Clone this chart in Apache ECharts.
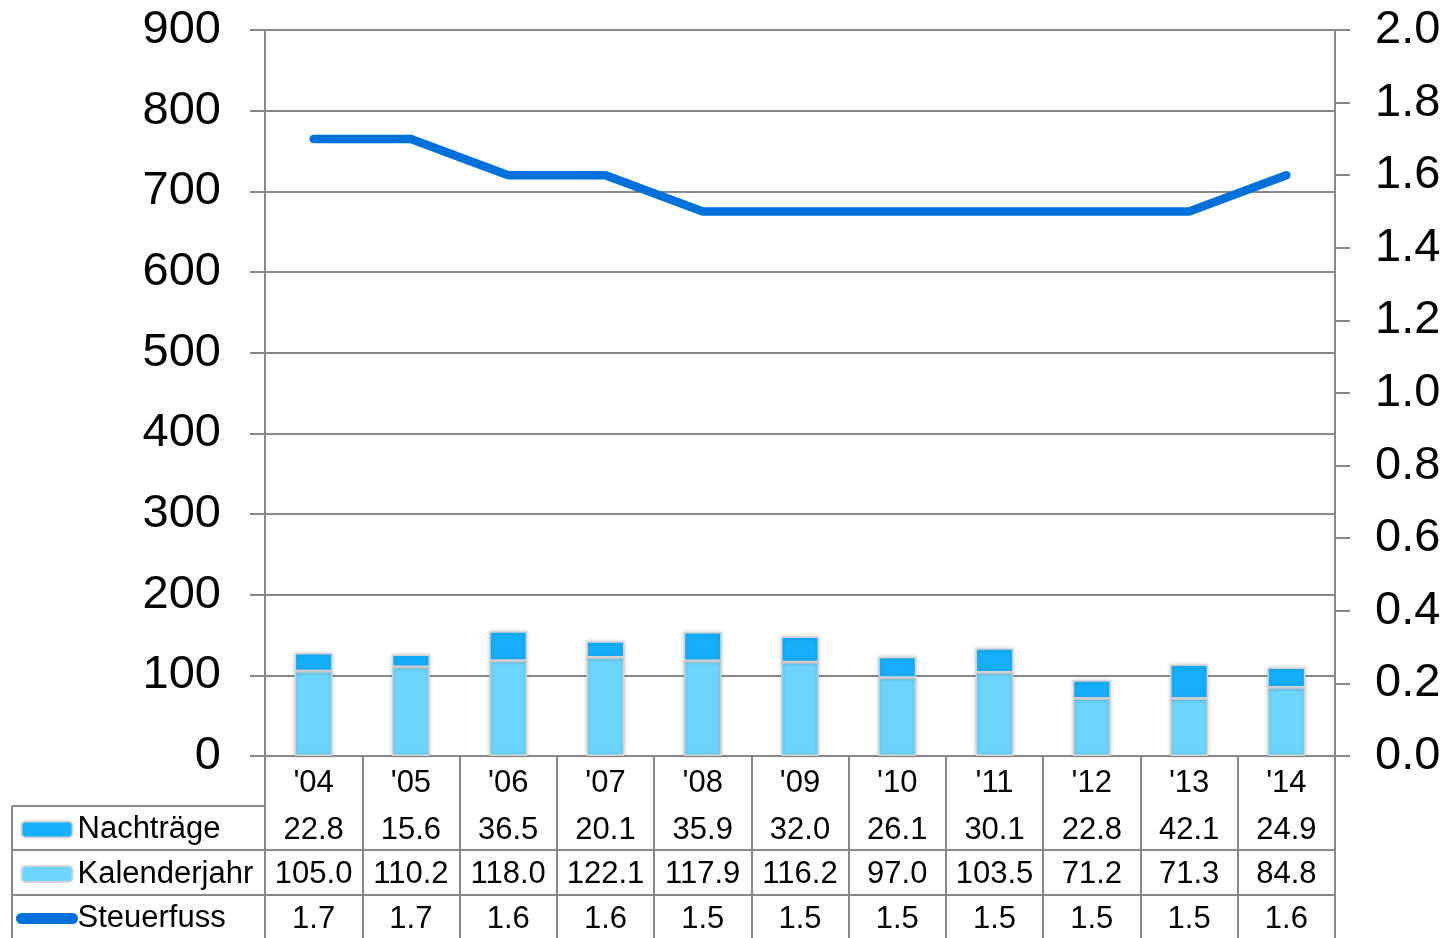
<!DOCTYPE html>
<html>
<head>
<meta charset="utf-8">
<script src="https://cdn.jsdelivr.net/npm/echarts@6/dist/echarts.min.js"></script>
<style>
  html, body { margin: 0; padding: 0; background: #fff; }
  #chart { width: 1452px; height: 938px; }
</style>
</head>
<body>
<div id="chart"></div>
<script>
// data
var years = ["'04", "'05", "'06", "'07", "'08", "'09", "'10", "'11", "'12", "'13", "'14"]
var nachtraege = [22.8, 15.6, 36.5, 20.1, 35.9, 32.0, 26.1, 30.1, 22.8, 42.1, 24.9]
var kalenderjahr = [105.0, 110.2, 118.0, 122.1, 117.9, 116.2, 97.0, 103.5, 71.2, 71.3, 84.8]
var steuerfuss = [1.7, 1.7, 1.6, 1.6, 1.5, 1.5, 1.5, 1.5, 1.5, 1.5, 1.6]

var gridColor = '#888888'
var font = 'Liberation Sans, Arial, Helvetica, sans-serif'

var chart = echarts.init(document.getElementById('chart'))

// one extra x axis per table row, stacked below the plot
function rowAxis(values, offset) {
  return {
    type: 'category',
    data: years,
    position: 'bottom',
    offset: offset,
    axisLine: { show: true, lineStyle: { color: gridColor, width: 2 } },
    axisTick: { show: false },
    axisLabel: {
      interval: 0,
      margin: 9,
      fontSize: 31,
      fontFamily: font,
      color: '#000',
      formatter: function (v, i) { return values[i].toFixed(1) }
    },
    splitLine: { show: false }
  }
}

chart.setOption({
  animation: false,
  backgroundColor: '#fff',
  textStyle: { fontFamily: font },
  grid: { left: 265, right: 117, top: 30, bottom: 182 },
  legend: {
    orient: 'vertical',
    left: 16,
    top: 814,
    height: 140,
    padding: 0,
    itemWidth: 51,
    itemHeight: 16,
    itemGap: 13.5,
    selectedMode: false,
    textStyle: { fontSize: 31, lineHeight: 31, color: '#000', fontFamily: font },
    data: [
      { name: 'Nachträge' },
      { name: 'Kalenderjahr' },
      { name: 'Steuerfuss', itemStyle: { opacity: 0 }, lineStyle: { width: 11, cap: 'round', color: '#0070DA' } }
    ]
  },
  graphic: [
    { type: 'line', shape: { x1: 12, y1: 806, x2: 265, y2: 806 }, style: { stroke: gridColor, lineWidth: 2 } },
    { type: 'line', shape: { x1: 12, y1: 850, x2: 265, y2: 850 }, style: { stroke: gridColor, lineWidth: 2 } },
    { type: 'line', shape: { x1: 12, y1: 895, x2: 265, y2: 895 }, style: { stroke: gridColor, lineWidth: 2 } },
    { type: 'line', shape: { x1: 12, y1: 806, x2: 12, y2: 938 }, style: { stroke: gridColor, lineWidth: 2 } }
  ],
  xAxis: [
    {
      type: 'category',
      data: years,
      position: 'bottom',
      axisLine: { show: true, lineStyle: { color: gridColor, width: 2 } },
      axisTick: { show: true, interval: 0, length: 182, lineStyle: { color: gridColor, width: 2 } },
      axisLabel: { interval: 0, margin: 12, fontSize: 31, fontFamily: font, color: '#000' },
      splitLine: { show: false }
    },
    rowAxis(nachtraege, 50),
    rowAxis(kalenderjahr, 94),
    rowAxis(steuerfuss, 139)
  ],
  yAxis: [
    {
      type: 'value',
      min: 0,
      max: 900,
      interval: 100,
      axisLine: { show: true, lineStyle: { color: gridColor, width: 2 } },
      axisTick: { show: true, length: 15, lineStyle: { color: gridColor, width: 2 } },
      axisLabel: { margin: 44, fontSize: 47, fontFamily: font, color: '#000' },
      splitLine: { show: true, lineStyle: { color: gridColor, width: 2 } }
    },
    {
      type: 'value',
      min: 0,
      max: 2,
      interval: 0.2,
      position: 'right',
      axisLine: { show: true, lineStyle: { color: gridColor, width: 2 } },
      axisTick: { show: true, length: 15, lineStyle: { color: gridColor, width: 2 } },
      axisLabel: {
        margin: 40,
        fontSize: 47,
        fontFamily: font,
        color: '#000',
        formatter: function (v) { return v.toFixed(1) }
      },
      splitLine: { show: false }
    }
  ],
  series: [
    {
      name: 'Kalenderjahr',
      type: 'bar',
      stack: 'total',
      barWidth: 38,
      data: kalenderjahr,
      itemStyle: {
        color: '#6DD5FC',
        borderColor: '#d4d4d4',
        borderWidth: 1.5,
        shadowBlur: 4,
        shadowColor: 'rgba(0,0,0,0.18)'
      }
    },
    {
      name: 'Nachträge',
      type: 'bar',
      stack: 'total',
      barWidth: 38,
      data: nachtraege,
      itemStyle: {
        color: '#15AEFA',
        borderColor: '#d4d4d4',
        borderWidth: 1.5,
        shadowBlur: 4,
        shadowColor: 'rgba(0,0,0,0.18)'
      }
    },
    {
      name: 'Steuerfuss',
      type: 'line',
      yAxisIndex: 1,
      data: steuerfuss,
      symbol: 'none',
      z: 5,
      lineStyle: { color: '#0070DA', width: 8.5, cap: 'round' },
      itemStyle: { color: '#0070DA' }
    }
  ]
})
</script>
</body>
</html>
